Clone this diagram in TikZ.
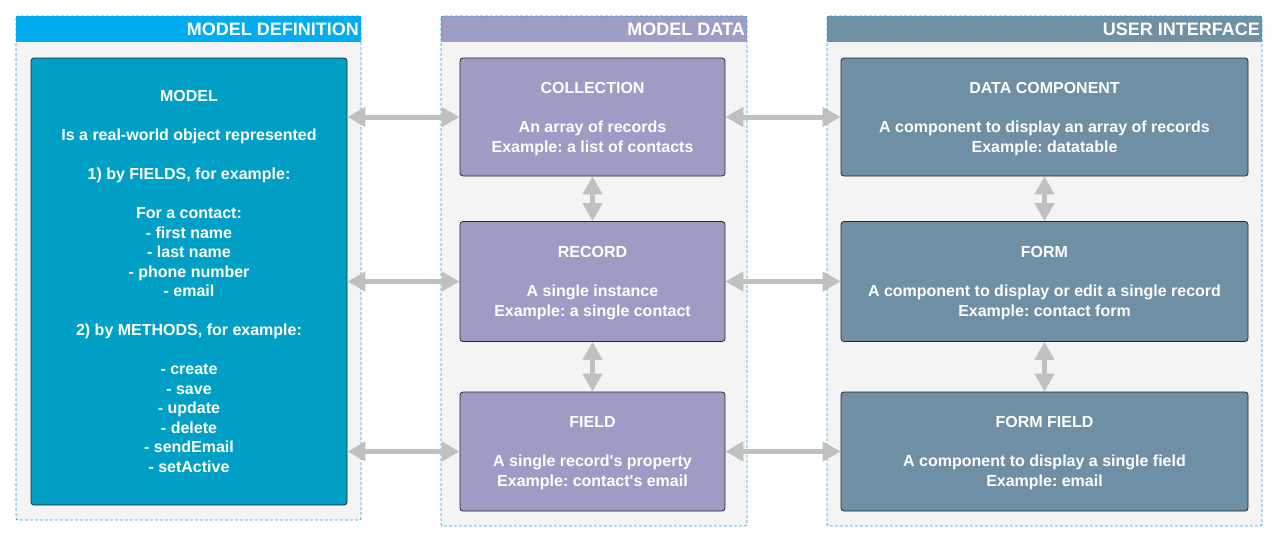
\documentclass[tikz,border=0pt]{standalone}
\usepackage{fontspec}
\setmainfont{Liberation Sans}[Ligatures=TeXOff]
\usetikzlibrary{arrows.meta}
\definecolor{hdrA}{HTML}{00AEEF}
\definecolor{boxA}{HTML}{00A0C6}
\definecolor{hdrB}{HTML}{9E9DC6}
\definecolor{boxB}{HTML}{9E9CC5}
\definecolor{hdrC}{HTML}{6F91A3}
\definecolor{boxC}{HTML}{6F90A4}
\definecolor{panelbg}{HTML}{F4F4F4}
\definecolor{dashc}{HTML}{1AA3E8}
\definecolor{arr}{HTML}{C0C0C0}
\frenchspacing
\begin{document}
\begin{tikzpicture}[x=1pt,y=-1pt,
  card/.style={draw=black!85, line width=0.8pt, rounded corners=3pt, align=center, text=white,
    font=\fontsize{16}{19.8}\selectfont\bfseries, inner sep=0pt, text depth=-3.4pt},
  hdrtext/.style={anchor=east, text=white, font=\fontsize{18}{20}\selectfont\bfseries, inner sep=0pt},
  panelborder/.style={draw=dashc, dashed, dash pattern=on 3pt off 2pt, line width=0.7pt, rounded corners=2pt},
  biarrow/.style={draw=arr, line width=5pt, {Triangle[length=18pt,width=19pt]}-{Triangle[length=18pt,width=19pt]}, shorten <=0pt, shorten >=0pt}
]
\useasboundingbox (0,0) rectangle (1278,542);
% panels
\fill[panelbg] (16,16) rectangle (361,520);
\fill[hdrA] (16,16) rectangle (361,42);
\draw[panelborder] (16,16) rectangle (361,520);
\node[hdrtext] (hA) at (359,29.5) {MODEL DEFINITION};

\fill[panelbg] (441,16) rectangle (747,526);
\fill[hdrB] (441,16) rectangle (747,42);
\draw[panelborder] (441,16) rectangle (747,526);
\node[hdrtext] (hB) at (745,29.5) {MODEL DATA};

\fill[panelbg] (827,16) rectangle (1262,526);
\fill[hdrC] (827,16) rectangle (1262,42);
\draw[panelborder] (827,16) rectangle (1262,526);
\node[hdrtext] (hC) at (1260,29.5) {USER INTERFACE};

% boxes
\node[card, fill=boxA, minimum width=316pt, minimum height=447pt, font=\fontsize{16}{19.5}\selectfont\bfseries, text depth=-4.5pt] (model) at (189,281.5)
  {MODEL\\[19.5pt]Is a real-world object represented\\[19.5pt]1) by FIELDS, for example:\\[19.5pt]For a contact:\\- first name\\- last name\\- phone number\\- email\\[19.5pt]2) by METHODS, for example:\\[19.5pt]- create\\- save\\- update\\- delete\\- sendEmail\\- setActive};

\node[card, fill=boxB, minimum width=265pt, minimum height=118pt] (coll) at (592.5,117)
  {COLLECTION\\[19.5pt]An array of records\\Example: a list of contacts};
\node[card, fill=boxB, minimum width=265pt, minimum height=120pt] (rec) at (592.5,281.5)
  {RECORD\\[19.5pt]A single instance\\Example: a single contact};
\node[card, fill=boxB, minimum width=265pt, minimum height=119pt] (fld) at (592.5,451.5)
  {FIELD\\[19.5pt]A single record's property\\Example: contact's email};

\node[card, fill=boxC, minimum width=407pt, minimum height=118pt] (dc) at (1044.5,117)
  {DATA COMPONENT\\[19.5pt]A component to display an array of records\\Example: datatable};
\node[card, fill=boxC, minimum width=407pt, minimum height=120pt] (form) at (1044.5,281.5)
  {FORM\\[19.5pt]A component to display or edit a single record\\Example: contact form};
\node[card, fill=boxC, minimum width=407pt, minimum height=119pt] (ff) at (1044.5,451.5)
  {FORM FIELD\\[19.5pt]A component to display a single field\\Example: email};

% connectors
\draw[biarrow] (coll.west -| model.east) -- (coll.west);
\draw[biarrow] (rec.west -| model.east) -- (rec.west);
\draw[biarrow] (fld.west -| model.east) -- (fld.west);
\draw[biarrow] (coll.east) -- (dc.west);
\draw[biarrow] (rec.east) -- (form.west);
\draw[biarrow] (fld.east) -- (ff.west);
\draw[biarrow] (coll.south) -- (rec.north);
\draw[biarrow] (rec.south) -- (fld.north);
\draw[biarrow] (dc.south) -- (form.north);
\draw[biarrow] (form.south) -- (ff.north);
\end{tikzpicture}
\end{document}
